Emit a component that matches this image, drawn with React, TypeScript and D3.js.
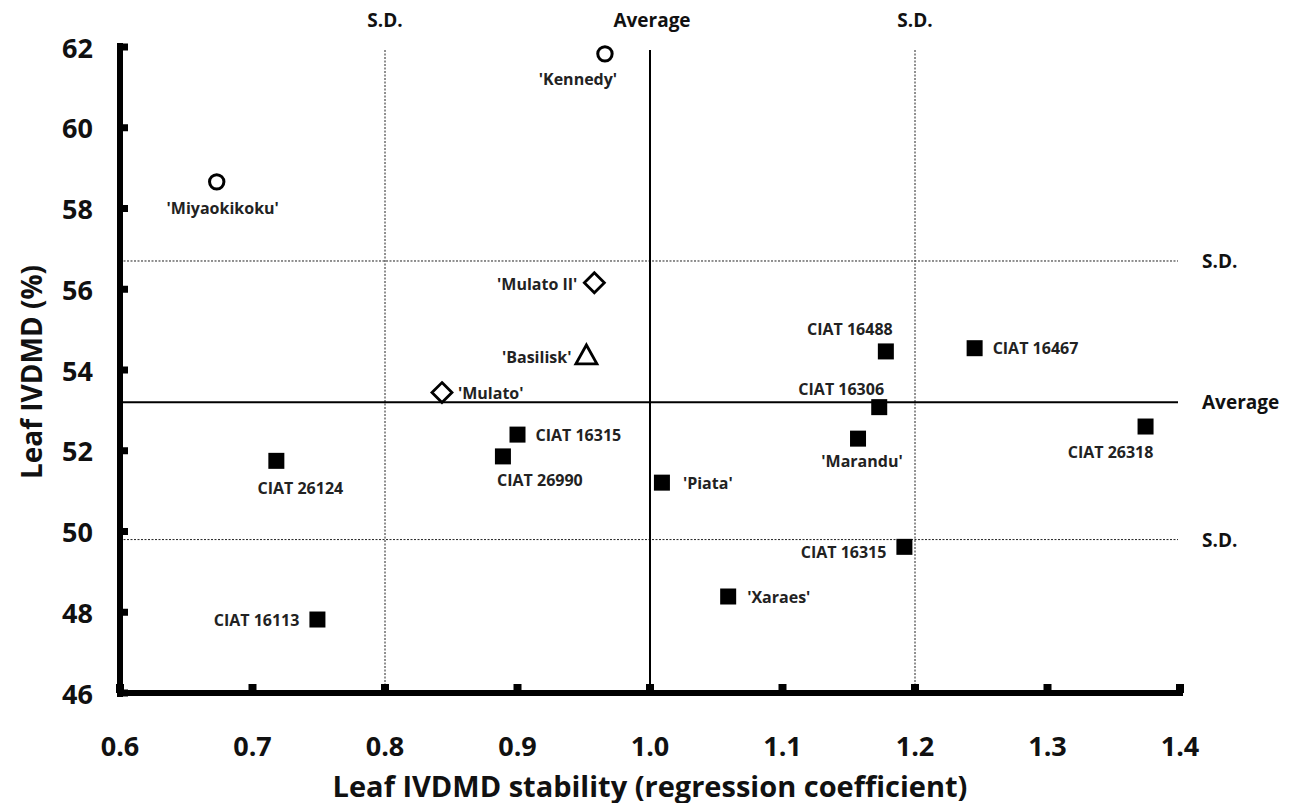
import React from "react";
import * as d3 from "d3";

const names = ["'Kennedy'", "'Miyaokikoku'", "'Mulato II'", "'Basilisk'", "'Mulato'", "CIAT 16315", "CIAT 26990", "'Piata'", "CIAT 26124", "CIAT 16113", "'Xaraes'", "CIAT 16488", "CIAT 16467", "CIAT 16306", "'Marandu'", "CIAT 26318", "CIAT 16315"];
const stability = [0.966, 0.673, 0.958, 0.952, 0.843, 0.9, 0.889, 1.009, 0.718, 0.749, 1.059, 1.178, 1.245, 1.173, 1.157, 1.374, 1.192];
const ivdmd = [61.83, 58.66, 56.16, 54.36, 53.44, 52.4, 51.86, 51.21, 51.75, 47.82, 48.39, 54.46, 54.54, 53.08, 52.3, 52.6, 49.62];
const groups = ["circle", "circle", "diamond", "triangle", "diamond", "square", "square", "square", "square", "square", "square", "square", "square", "square", "square", "square", "square"];

const xTicks = [0.6, 0.7, 0.8, 0.9, 1.0, 1.1, 1.2, 1.3, 1.4];
const yTicks = [46, 48, 50, 52, 54, 56, 58, 60, 62];
const avgX = 1.0;
const sdX = [0.8, 1.2];
const avgY = 53.2;
const sdY = [56.7, 49.8];

// label layout: [dx, dy, anchor]
const labelLayout: [number, number, string][] = [
  [-27, 25, "middle"],
  [6, 26, "middle"],
  [-17, 1, "end"],
  [-15, 2, "end"],
  [16, 0, "start"],
  [18, 0, "start"],
  [37, 24, "middle"],
  [21, 0, "start"],
  [24, 27, "middle"],
  [-18, 0, "end"],
  [19, 0, "start"],
  [-36, -22, "middle"],
  [18, 0, "start"],
  [-38, -18, "middle"],
  [4, 22, "middle"],
  [-35, 25, "middle"],
  [-18, 5, "end"],
];

const FONT = "'Open Sans', 'DejaVu Sans', sans-serif";

export default function App() {
  const x = d3.scaleLinear().domain([0.6, 1.4]).range([120, 1180]);
  const y = d3.scaleLinear().domain([46, 62]).range([693, 47]);
  const x0 = x(0.6);
  const x1 = x(1.4);
  const yTop = y(62);
  const yBot = y(46);

  const marker = (g: string, cx: number, cy: number, i: number) => {
    if (g === "circle")
      return <circle key={i} cx={cx} cy={cy} r={7.2} fill="#fff" stroke="#000" strokeWidth={3} />;
    if (g === "diamond") {
      const s = 10;
      return <path key={i} d={`M${cx},${cy - s}L${cx + s},${cy}L${cx},${cy + s}L${cx - s},${cy}Z`} fill="#fff" stroke="#000" strokeWidth={2.8} />;
    }
    if (g === "triangle") {
      const s = 10.5;
      return <path key={i} d={`M${cx},${cy - s}L${cx + s},${cy + s * 0.8}L${cx - s},${cy + s * 0.8}Z`} fill="#fff" stroke="#000" strokeWidth={2.8} />;
    }
    return <rect key={i} x={cx - 8} y={cy - 8} width={16} height={16} fill="#000" />;
  };

  return (
    <svg width={1290} height={803} style={{ position: "absolute", left: 0, top: 0, background: "#fff" }} fontFamily={FONT}>
      <rect x={0} y={0} width={1290} height={803} fill="#fff" />
      {/* reference lines */}
      {sdX.map((v, i) => (
        <line key={"sdx" + i} x1={x(v)} x2={x(v)} y1={50} y2={yBot} stroke="#222" strokeWidth={1} strokeDasharray="2,1.5" />
      ))}
      {sdY.map((v, i) => (
        <line key={"sdy" + i} x1={x0} x2={1178} y1={y(v)} y2={y(v)} stroke="#222" strokeWidth={1} strokeDasharray="2,1.5" />
      ))}
      <line x1={x(avgX)} x2={x(avgX)} y1={50} y2={yBot} stroke="#000" strokeWidth={2} />
      <line x1={x0} x2={1178} y1={y(avgY)} y2={y(avgY)} stroke="#000" strokeWidth={2} />

      {/* reference labels */}
      <g fontWeight={700} fontSize={19} fill="#111">
        <text x={x(sdX[0])} y={20} textAnchor="middle" dominantBaseline="central">S.D.</text>
        <text x={x(avgX) + 2} y={20} textAnchor="middle" dominantBaseline="central">Average</text>
        <text x={x(sdX[1])} y={20} textAnchor="middle" dominantBaseline="central">S.D.</text>
        <text x={1202} y={y(sdY[0])} dominantBaseline="central">S.D.</text>
        <text x={1202} y={y(avgY)} dominantBaseline="central">Average</text>
        <text x={1202} y={y(sdY[1])} dominantBaseline="central">S.D.</text>
      </g>

      {/* axes */}
      <line x1={x0} x2={x0} y1={yTop - 4} y2={yBot + 4} stroke="#000" strokeWidth={6} />
      <line x1={x0 - 3} x2={x1 + 3} y1={yBot} y2={yBot} stroke="#000" strokeWidth={6} />
      {yTicks.map((t) => (
        <rect key={"yt" + t} x={x0} y={y(t) - 3.5} width={8} height={7} fill="#000" />
      ))}
      {xTicks.map((t) => (
        <rect key={"xt" + t} x={x(t) - 4} y={yBot - 9} width={8} height={9} fill="#000" />
      ))}
      <g fontWeight={700} fontSize={27} fill="#111">
        {yTicks.map((t) => (
          <text key={"yl" + t} x={93} y={y(t)} textAnchor="end" dominantBaseline="central">{t}</text>
        ))}
        {xTicks.map((t) => (
          <text key={"xl" + t} x={x(t)} y={745} textAnchor="middle" dominantBaseline="central">{t.toFixed(1)}</text>
        ))}
      </g>
      <text x={650} y={785} textAnchor="middle" dominantBaseline="central" fontWeight={700} fontSize={29} fill="#111">
        Leaf IVDMD stability (regression coefficient)
      </text>
      <text transform={`translate(31,372) rotate(-90)`} textAnchor="middle" dominantBaseline="central" fontWeight={700} fontSize={28} fill="#111">
        Leaf IVDMD (%)
      </text>

      {/* points */}
      {names.map((n, i) => marker(groups[i], x(stability[i]), y(ivdmd[i]), i))}
      <g fontWeight={700} fontSize={16} fill="#222">
        {names.map((n, i) => (
          <text key={"pl" + i} x={x(stability[i]) + labelLayout[i][0]} y={y(ivdmd[i]) + labelLayout[i][1]} textAnchor={labelLayout[i][2] as any} dominantBaseline="central">
            {n}
          </text>
        ))}
      </g>
    </svg>
  );
}
